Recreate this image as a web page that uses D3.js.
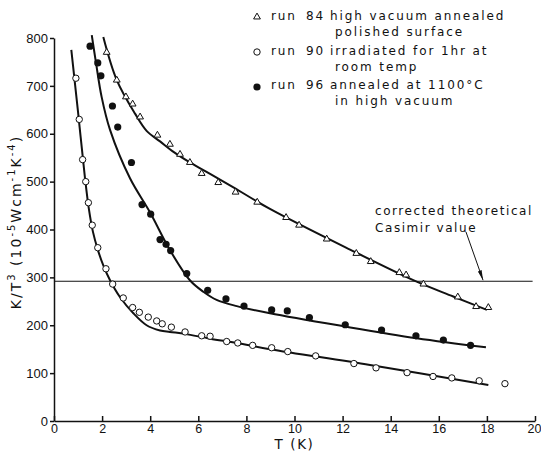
<!DOCTYPE html>
<html>
<head>
<meta charset="utf-8">
<script src="https://cdn.jsdelivr.net/npm/d3@7/dist/d3.min.js"></script>
<style>
    body { margin: 0; background: #fff; }
    text { fill: #111; }
</style>
</head>
<body>
<svg id="chart" width="541" height="457"></svg>
<script>
"use strict"

// measured points, [T (K), K/T^3]
const run84 = [
    [2.19, 770], [2.61, 712], [2.99, 677], [3.27, 662], [3.58, 635], [4.30, 597],
    [4.82, 578], [5.24, 557], [5.65, 540], [6.14, 517], [6.83, 498], [7.55, 478],
    [8.45, 457], [9.65, 425], [10.19, 409], [11.34, 380], [12.57, 350], [13.17, 333],
    [14.36, 310], [14.64, 305], [15.36, 286], [16.79, 259], [17.55, 239], [18.06, 237]
];
const run90 = [
    [0.91, 716], [1.05, 630], [1.19, 546], [1.32, 500], [1.43, 456], [1.59, 409],
    [1.82, 362], [2.16, 318], [2.44, 286], [2.88, 257], [3.27, 237], [3.55, 227],
    [3.92, 217], [4.27, 209], [4.50, 203], [4.88, 196], [5.45, 186], [6.14, 178],
    [6.49, 177], [7.18, 166], [7.64, 163], [8.26, 158], [9.05, 153], [9.72, 145],
    [10.88, 136], [12.47, 120], [13.39, 111], [14.68, 101], [15.76, 93], [16.54, 90],
    [17.68, 84], [18.75, 78]
];
const run96 = [
    [1.50, 783], [1.82, 748], [1.95, 721], [2.43, 658], [2.65, 614], [3.22, 540],
    [3.66, 452], [4.02, 432], [4.41, 379], [4.66, 369], [4.85, 356], [5.52, 308],
    [6.39, 273], [7.15, 255], [7.90, 240], [9.05, 232], [9.70, 230], [10.62, 216],
    [12.11, 201], [13.62, 190], [15.05, 178], [16.19, 169], [17.32, 158]
];

// hand drawn fit curves
const fit84 = [
    [2.05, 802], [2.61, 712], [3.37, 642], [3.85, 606], [4.41, 584], [5.00, 561],
    [5.65, 540], [6.49, 516], [7.46, 488], [8.98, 443], [12.31, 358], [15.08, 291],
    [16.60, 260], [18.00, 232]
];
const fit90 = [
    [0.72, 775], [1.00, 645], [1.29, 507], [1.45, 443], [1.62, 395], [1.82, 358],
    [2.05, 325], [2.33, 294], [2.74, 259], [3.30, 225], [3.85, 200], [4.41, 189],
    [4.82, 186], [5.45, 182], [6.49, 172], [7.60, 163], [8.98, 150], [13.14, 117],
    [18.06, 75]
];
const fit96 = [
    [1.57, 806], [1.75, 747], [1.98, 677], [2.33, 608], [3.16, 507], [3.99, 436],
    [4.82, 357], [5.65, 294], [6.21, 270], [6.76, 253], [7.60, 240], [8.98, 225],
    [12.03, 198], [15.08, 173], [17.96, 154]
];

const casimirValue = 292;

const xTicks = [0, 2, 4, 6, 8, 10, 12, 14, 16, 18, 20];
const yTicks = [0, 100, 200, 300, 400, 500, 600, 700, 800];

const legendRuns = ["84", "90", "96"];
const legendLines = [
    ["high vacuum annealed", "polished surface"],
    ["irradiated for 1hr at", "room temp"],
    ["annealed at 1100\u00b0C", "in high vacuum"]
];
const casimirText = ["corrected theoretical", "Casimir value"];

const svg = d3.select("#chart");
const margin = { top: 38, right: 6, bottom: 36, left: 54 };
const width = +svg.attr("width");
const height = +svg.attr("height");

const x = d3.scaleLinear().domain([0, 20]).range([margin.left, width - margin.right]);
const y = d3.scaleLinear().domain([0, 800]).range([height - margin.bottom, margin.top]);

const textFont = "DejaVu Sans, sans-serif";
const tickFont = "Liberation Sans, Arial, sans-serif";

// axes
let gx = svg.append("g")
    .attr("transform", "translate(0," + y(0) + ")")
    .call(d3.axisBottom(x).tickValues(xTicks).tickSize(-5).tickSizeOuter(0).tickPadding(3));
let gy = svg.append("g")
    .attr("transform", "translate(" + x(0) + ",0)")
    .call(d3.axisLeft(y).tickValues(yTicks).tickSize(4).tickSizeOuter(0).tickPadding(2));

[gx, gy].forEach(function (g) {
    g.attr("font-family", tickFont).attr("font-size", 13);
    g.selectAll("path, line").attr("stroke", "#111").attr("stroke-width", 1.5);
    g.selectAll("text").attr("fill", "#111");
});
gx.attr("font-size", 12.5);
// last label sits against the page edge
gx.selectAll(".tick text").filter(function (d) { return d === 20; }).attr("dx", -1);

svg.append("text")
    .attr("x", x(10))
    .attr("y", 448.5)
    .attr("text-anchor", "middle")
    .attr("font-family", textFont)
    .attr("font-size", 13.5)
    .attr("letter-spacing", 1.6)
    .text("T (K)");

// y label with superscripts
let ylab = svg.append("text")
    .attr("transform", "translate(21,222) rotate(-90)")
    .attr("text-anchor", "middle")
    .attr("font-family", textFont)
    .attr("font-size", 14)
    .attr("letter-spacing", 2);
[["K/T", 0], ["3", 1], [" (10", 0], ["-5", 1], ["Wcm", 0], ["-1", 1], ["K", 0], ["-4", 1], [")", 0]]
    .forEach(function (p, i, arr) {
        let prevSup = i > 0 && arr[i - 1][1];
        let dy = p[1] && !prevSup ? -6 : (!p[1] && prevSup ? 6 : 0);
        ylab.append("tspan")
            .attr("dy", dy)
            .attr("font-size", p[1] ? 10 : 14)
            .text(p[0]);
    });

// casimir line and note
svg.append("line")
    .attr("x1", x(0)).attr("x2", x(19.9))
    .attr("y1", y(casimirValue)).attr("y2", y(casimirValue))
    .attr("stroke", "#111")
    .attr("stroke-width", 1.1);

svg.append("defs").append("marker")
    .attr("id", "arrow")
    .attr("viewBox", "0 0 10 4")
    .attr("refX", 10).attr("refY", 2)
    .attr("markerWidth", 10).attr("markerHeight", 4)
    .attr("markerUnits", "userSpaceOnUse")
    .attr("orient", "auto")
    .append("path")
    .attr("d", "M0,0L10,2L0,4Z")
    .attr("fill", "#111");

svg.append("line")
    .attr("x1", x(17.13)).attr("y1", y(395))
    .attr("x2", x(17.84)).attr("y2", y(casimirValue) - 1)
    .attr("stroke", "#111")
    .attr("stroke-width", 1)
    .attr("marker-end", "url(#arrow)");

svg.selectAll(".casimir-text")
    .data(casimirText)
    .enter().append("text")
    .attr("class", "casimir-text")
    .attr("x", x(13.35))
    .attr("y", function (d, i) { return y(430) + i * 17; })
    .attr("font-family", textFont)
    .attr("font-size", 12)
    .attr("letter-spacing", 1.55)
    .text(function (d) { return d; });

// fit curves
const line = d3.line()
    .x(function (d) { return x(d[0]); })
    .y(function (d) { return y(d[1]); })
    .curve(d3.curveCatmullRom.alpha(0.5));

svg.selectAll(".fit")
    .data([fit84, fit90, fit96])
    .enter().append("path")
    .attr("class", "fit")
    .attr("d", line)
    .attr("fill", "none")
    .attr("stroke", "#111")
    .attr("stroke-width", 2);

// markers
const tri = d3.symbol().type(d3.symbolTriangle).size(20);

svg.selectAll(".p84")
    .data(run84)
    .enter().append("path")
    .attr("class", "p84")
    .attr("d", tri)
    .attr("transform", function (d) { return "translate(" + x(d[0]) + "," + y(d[1]) + ")"; })
    .attr("fill", "#fff")
    .attr("stroke", "#111")
    .attr("stroke-width", 1);

svg.selectAll(".p90")
    .data(run90)
    .enter().append("circle")
    .attr("class", "p90")
    .attr("cx", function (d) { return x(d[0]); })
    .attr("cy", function (d) { return y(d[1]); })
    .attr("r", 3.2)
    .attr("fill", "#fff")
    .attr("stroke", "#111")
    .attr("stroke-width", 1);

svg.selectAll(".p96")
    .data(run96)
    .enter().append("circle")
    .attr("class", "p96")
    .attr("cx", function (d) { return x(d[0]); })
    .attr("cy", function (d) { return y(d[1]); })
    .attr("r", 3.6)
    .attr("fill", "#111");

// legend
const legendY = [20, 55, 89];
let legend = svg.append("g")
    .attr("font-family", textFont)
    .attr("font-size", 12)
    .attr("letter-spacing", 1.9);

legendRuns.forEach(function (run, i) {
    let row = legend.append("g").attr("transform", "translate(0," + legendY[i] + ")");
    if (i === 0) {
        row.append("path").attr("d", tri).attr("transform", "translate(257,-3)")
            .attr("fill", "#fff").attr("stroke", "#111").attr("stroke-width", 1);
    } else if (i === 1) {
        row.append("circle").attr("cx", 257).attr("cy", -3).attr("r", 3.2)
            .attr("fill", "#fff").attr("stroke", "#111").attr("stroke-width", 1);
    } else {
        row.append("circle").attr("cx", 257).attr("cy", -2).attr("r", 3.6).attr("fill", "#111");
    }
    row.append("text").attr("x", 271).text("run");
    row.append("text").attr("x", 306).text(run);
    row.append("text").attr("x", 330).text(legendLines[i][0]);
    row.append("text").attr("x", 335).attr("y", 15.5).text(legendLines[i][1]);
});
</script>
</body>
</html>
